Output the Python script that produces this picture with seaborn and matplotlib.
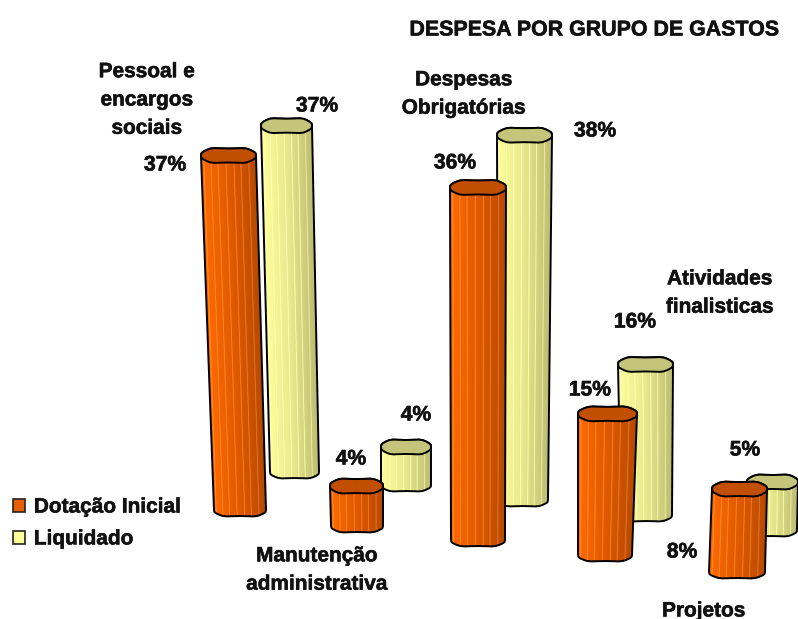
import numpy as np
import pandas as pd
import matplotlib
matplotlib.use("Agg")
import matplotlib.pyplot as plt
import matplotlib.patheffects as pe
from matplotlib.colors import ListedColormap
from matplotlib.patches import Patch, PathPatch
from matplotlib.path import Path
import seaborn as sns

# valores do grafico (%)
grupos = ["Pessoal e encargos sociais", "Manutenção administrativa", "Despesas Obrigatórias",
          "Atividades finalisticas", "Projetos"]
dotacao = [37, 4, 36, 15, 8]
liquidado = [37, 4, 38, 16, 5]
series = ["Dotação Inicial", "Liquidado"]

W, H = 798, 619
PX_POR_PCT = 9.6  # escala do eixo y

# layout dos cilindros em pixels da imagem (perspectiva): esq/dir no topo, esq/dir na base, y da base, fator
geo_dotacao = [(201, 256, 214, 266, 510, 0.998), (330, 383, 331, 383, 526, 1.04), (450, 506, 451, 505, 540, 1.02),
               (578, 637, 578, 632, 555, 0.98), (712, 767, 709, 765, 572, 1.08)]
geo_liquidado = [(261, 312, 270, 319, 472, 0.975), (381, 431, 381, 431, 485, 0.99), (497, 552, 498, 548, 500, 1.0),
                 (618, 673, 621, 672, 515, 0.98), (747, 798, 747, 797, 530, 1.0)]

cores = {
    "Dotação Inicial": {"esq": "#ff6a00", "meio": "#e05a00", "dir": "#b84a00", "topo": "#c24f00", "legenda": "#e85f00"},
    "Liquidado": {"esq": "#ffff99", "meio": "#e8e88e", "dir": "#bdbd72", "topo": "#c4c47a", "legenda": "#ffff99"},
}
listras = [0.07, 0.19, 0.31, 0.46, 0.6, 0.73, 0.87]


def y_px(py):
    # pixel da imagem -> unidade do eixo y (%)
    return (H - np.asarray(py)) / PX_POR_PCT


def anel(cx, cy, rx, ry, a0, a1, n):
    # elipse meio quadrada e ondulada, como a tampa do original
    t = np.linspace(a0, a1, n)
    c, s = np.cos(t), np.sin(t)
    onda = 1 + 0.07 * np.cos(6 * t)
    return cx + rx * np.sign(c) * np.abs(c) ** 0.7, cy + ry * np.sign(s) * np.abs(s) ** 0.8 * onda


def perfil(cor, n=56):
    u = np.arange(n) / (n - 1)
    c0 = np.array(matplotlib.colors.to_rgb(cor["esq"]))
    c1 = np.array(matplotlib.colors.to_rgb(cor["meio"]))
    c2 = np.array(matplotlib.colors.to_rgb(cor["dir"]))
    rgb = np.zeros((n, 3))
    for i, v in enumerate(u):
        rgb[i] = c0 + (c1 - c0) * v / 0.5 if v < 0.5 else c1 + (c2 - c1) * (v - 0.5) / 0.5
    for l in listras:
        k = int(l * n)
        rgb[k] = np.minimum(rgb[k] + 0.15, 1)
    return rgb


def cilindro(ax, barra, geo, cor, z):
    tl, tr, bl, br, base, fator = geo
    topo = base - barra.get_height() * PX_POR_PCT * fator
    ry_t, ry_b = 7.5, 6.5

    # a barra do seaborn vai para o lugar certo, por baixo do corpo
    barra.set_x(max(tl, bl) + 2)
    barra.set_width(min(tr, br) - max(tl, bl) - 4)
    barra.set_y(y_px(base))
    barra.set_height(y_px(topo) - y_px(base))
    barra.set_zorder(z)

    # contorno do corpo
    xb, yb = anel((bl + br) / 2, base, (br - bl) / 2, ry_b, np.pi, 0, 17)
    xt, yt = anel((tl + tr) / 2, topo, (tr - tl) / 2, ry_t, 0, -np.pi, 17)
    xs = np.r_[xb, xt, xb[0]]
    ys = np.r_[yb, yt, yb[0]]
    corpo = PathPatch(Path(np.c_[xs, y_px(ys)]), fc="none", ec="black", lw=1.4,
                      joinstyle="round", zorder=z + 2)
    ax.add_patch(corpo)

    # degrade com facetas seguindo a inclinacao
    rgb = perfil(cor)
    u = np.linspace(0, 1, rgb.shape[0])
    fundo = base + ry_b + 3
    X = np.vstack([tl + (tr - tl) * u, bl + (br - bl) * u])
    Y = np.vstack([np.full(u.size, y_px(topo)), np.full(u.size, y_px(fundo))])
    idx = np.arange(u.size, dtype=float)
    malha = ax.pcolormesh(X, Y, np.vstack([idx, idx]), shading="gouraud", cmap=ListedColormap(rgb),
                          vmin=-0.5, vmax=u.size - 0.5, zorder=z + 1)
    malha.set_clip_path(corpo)

    # tampa
    xa, ya = anel((tl + tr) / 2, topo, (tr - tl) / 2, ry_t, 0, 2 * np.pi, 33)
    ax.fill(xa, y_px(ya), fc=cor["topo"], ec="black", lw=1.4, zorder=z + 3)


sns.set_theme(style="white")
plt.rcParams["font.family"] = ["Liberation Sans", "DejaVu Sans"]

fig = plt.figure(figsize=(W / 100, H / 100), dpi=100)
ax = fig.add_axes([0, 0, 1, 1])

df = pd.DataFrame({
    "pos": list(range(len(grupos))) * 2,
    "valor": dotacao + liquidado,
    "serie": [series[0]] * len(grupos) + [series[1]] * len(grupos),
})
# uma chamada por serie para saber a ordem das barras
for s in series:
    sub = df[df["serie"] == s]
    sns.barplot(data=sub, x="pos", y="valor", color=cores[s]["esq"], native_scale=True, errorbar=None,
                saturation=1, ax=ax)
barras = list(ax.patches)
ax.set_xlim(0, W)
ax.set_ylim(0, H / PX_POR_PCT)
ax.axis("off")

n = len(grupos)
# amarelos primeiro, laranjas na frente
for i in range(n):
    cilindro(ax, barras[n + i], geo_liquidado[i], cores[series[1]], 10 + i * 4)
for i in range(n):
    cilindro(ax, barras[i], geo_dotacao[i], cores[series[0]], 40 + i * 4)

negrito = [pe.withStroke(linewidth=0.4, foreground="#111111")]


def rotulo(x, py, txt, size=15.5, **kw):
    ax.text(x, y_px(py), txt, ha="center", va="center", fontsize=size, fontweight="bold",
            color="#111111", zorder=90, path_effects=negrito, **kw)


rotulo(594, 30, "DESPESA POR GRUPO DE GASTOS", size=15.4)

# nomes dos grupos
nomes_pos = [(147, 100), (317, 570), (464, 94), (720, 293), (704, 611)]
nomes_txt = ["Pessoal e\nencargos\nsociais", "Manutenção\nadministrativa", "Despesas\nObrigatórias",
             "Atividades\nfinalisticas", "Projetos"]
for (x, py), t in zip(nomes_pos, nomes_txt):
    rotulo(x, py, t, size=15, linespacing=1.62)

# percentuais
pct_dot_pos = [(165, 165), (351, 459), (455, 163), (590, 390), (682, 552)]
pct_liq_pos = [(317, 106), (416, 415), (595, 131), (635, 322), (745, 450)]
for (x, py), v in zip(pct_dot_pos, dotacao):
    rotulo(x, py, f"{v}%", size=15.2)
for (x, py), v in zip(pct_liq_pos, liquidado):
    rotulo(x, py, f"{v}%", size=15.2)

handles = [Patch(fc=cores[s]["legenda"], ec="#222222", lw=1.2, label=s) for s in series]
leg = ax.legend(handles=handles, loc="lower left", bbox_to_anchor=(0.0163, 0.114), frameon=False,
                prop={"size": 15, "weight": "bold"}, handlelength=0.58, handleheight=0.58,
                handletextpad=0.42, labelspacing=0.62, borderpad=0, borderaxespad=0, labelcolor="#111111")
for t in leg.get_texts():
    t.set_path_effects(negrito)

fig.savefig("out.png", dpi=100)
